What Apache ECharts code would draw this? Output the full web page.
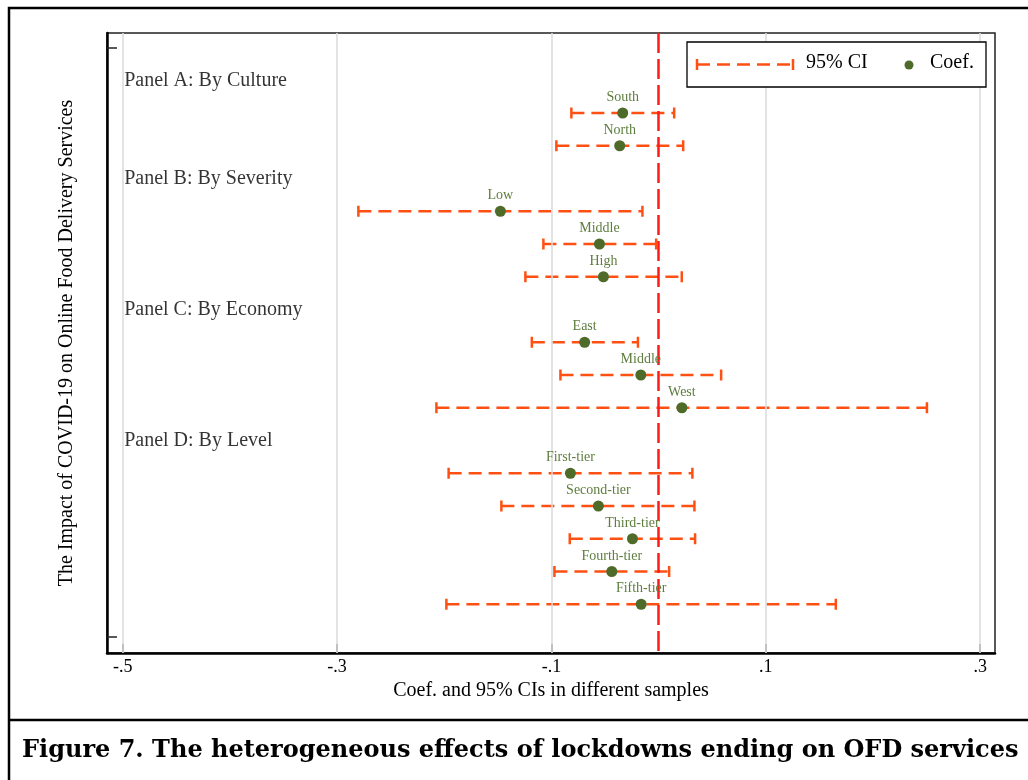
<!DOCTYPE html>
<html>
<head>
<meta charset="utf-8">
<script src="https://cdn.jsdelivr.net/npm/echarts@6/dist/echarts.min.js"></script>
<style>
html,body{margin:0;padding:0;background:#fff;}
#chart{width:1028px;height:780px;}
</style>
</head>
<body>
<div id="chart"></div>
<script>
// ---- Data ----
const rowLabels = ['South','North','Low','Middle','High','East','Middle','West','First-tier','Second-tier','Third-tier','Fourth-tier','Fifth-tier'];
const rowPos    = [2, 3, 5, 6, 7, 9, 10, 11, 13, 14, 15, 16, 17];
const coef      = [-0.0335, -0.0363, -0.1476, -0.0552, -0.0515, -0.0690, -0.0166, 0.0217, -0.0823, -0.0562, -0.0244, -0.0437, -0.0163];
const ciLow     = [-0.0814, -0.0954, -0.2801, -0.1075, -0.1243, -0.1183, -0.0916, -0.2073, -0.1959, -0.1467, -0.0829, -0.0972, -0.1980];
const ciHigh    = [0.0145, 0.0229, -0.0151, -0.0023, 0.0216, -0.0193, 0.0583, 0.2503, 0.0315, 0.0334, 0.0340, 0.0098, 0.1653];
const panelLabels = ['Panel A: By Culture','Panel B: By Severity','Panel C: By Economy','Panel D: By Level'];
const panelPos    = [1, 4, 8, 12];
const xTicks      = [-0.5, -0.3, -0.1, 0.1, 0.3];
const xTickLabels = ['-.5', '-.3', '-.1', '.1', '.3'];
const yTicks      = [0, 18];
const refValue    = 0;

const SERIF = 'Liberation Serif';
const CI_COLOR = '#ff5014';
const DOT_COLOR = '#4e6b2a';
const LABEL_COLOR = '#5e7d3e';

const ciData = rowPos.map((p, i) => [ciLow[i], ciHigh[i], p]);
const dotData = rowPos.map((p, i) => ({ value: [coef[i], p], name: rowLabels[i] }));
const panelData = panelPos.map((p, i) => ({ value: [xTicks[0], p], name: panelLabels[i] }));

const chart = echarts.init(document.getElementById('chart'), null, { renderer: 'canvas' });

const option = {
  animation: false,
  backgroundColor: '#fff',
  grid: { left: 107, top: 33, right: 33, bottom: 127, show: true, borderColor: '#222', borderWidth: 1.5, backgroundColor: 'transparent' },
  xAxis: {
    type: 'value',
    min: -0.5146, max: 0.3138,
    name: 'Coef. and 95% CIs in different samples',
    nameLocation: 'middle', nameGap: 27,
    nameTextStyle: { fontFamily: SERIF, fontSize: 20, color: '#000' },
    axisLine: { show: true, onZero: false, lineStyle: { color: '#000', width: 2.5 } },
    axisTick: { show: true, inside: true, length: 9, customValues: xTicks, lineStyle: { color: '#222', width: 1.5 } },
    axisLabel: { customValues: xTicks, fontFamily: SERIF, fontSize: 18, color: '#000', margin: 5,
      formatter: v => { const i = xTicks.findIndex(t => Math.abs(t - v) < 1e-9); return i >= 0 ? xTickLabels[i] : ''; } },
    splitLine: { show: false }
  },
  yAxis: {
    type: 'value',
    inverse: true,
    min: -0.443, max: 18.489,
    name: 'The Impact of COVID-19 on Online Food Delivery Services',
    nameLocation: 'middle', nameGap: 30, nameRotate: 90,
    nameTextStyle: { fontFamily: SERIF, fontSize: 20, color: '#000' },
    axisLine: { show: true, onZero: false, lineStyle: { color: '#000', width: 2.5 } },
    axisTick: { show: true, inside: true, length: 10, customValues: yTicks, lineStyle: { color: '#222', width: 1.5 } },
    axisLabel: { show: false, customValues: yTicks },
    splitLine: { show: false }
  },
  series: [
    {
      // vertical grid lines at the x ticks
      type: 'line', data: [], z: 1, silent: true,
      markLine: {
        silent: true, symbol: 'none', animation: false,
        label: { show: false },
        lineStyle: { color: '#dcdcdc', width: 1.6, type: 'solid' },
        data: xTicks.map(t => ({ xAxis: t }))
      }
    },
    {
      type: 'custom', z: 3, silent: true,
      data: ciData,
      encode: { x: [0, 1], y: 2 },
      renderItem: function (params, api) {
        const lo = api.coord([api.value(0), api.value(2)]);
        const hi = api.coord([api.value(1), api.value(2)]);
        const h = 5.5;
        const st = { stroke: CI_COLOR, lineWidth: 2.5, fill: null };
        return {
          type: 'group',
          children: [
            { type: 'line', shape: { x1: lo[0], y1: lo[1], x2: hi[0], y2: hi[1] }, style: Object.assign({}, st, { lineDash: [13, 7] }) },
            { type: 'line', shape: { x1: lo[0], y1: lo[1] - h, x2: lo[0], y2: lo[1] + h }, style: st },
            { type: 'line', shape: { x1: hi[0], y1: hi[1] - h, x2: hi[0], y2: hi[1] + h }, style: st }
          ]
        };
      }
    },
    {
      // zero reference line
      type: 'line', data: [], z: 4, silent: true,
      markLine: {
        silent: true, symbol: 'none', animation: false,
        label: { show: false },
        lineStyle: { color: '#ff1a1a', width: 2.5, type: [20, 6] },
        data: [{ xAxis: refValue }]
      }
    },
    {
      type: 'scatter', z: 5, silent: true,
      symbol: 'circle', symbolSize: 11,
      itemStyle: { color: DOT_COLOR, opacity: 1 },
      data: dotData,
      label: { show: true, position: 'top', distance: 3, formatter: p => p.name,
        fontFamily: SERIF, fontSize: 14, color: LABEL_COLOR }
    },
    {
      type: 'scatter', z: 5, silent: true,
      symbolSize: 1,
      itemStyle: { color: 'rgba(0,0,0,0)' },
      data: panelData,
      label: { show: true, position: 'right', distance: 1, formatter: p => p.name,
        fontFamily: SERIF, fontSize: 20, color: '#000' }
    }
  ],
  graphic: [
    // outer frame
    { type: 'rect', shape: { x: 9, y: 8, width: 1030, height: 800 }, style: { fill: null, stroke: '#000', lineWidth: 2.5 }, z: 100, silent: true },
    { type: 'line', shape: { x1: 9, y1: 720, x2: 1030, y2: 720 }, style: { stroke: '#000', lineWidth: 2.5 }, z: 100, silent: true },
    { type: 'text', left: 22, top: 739, style: { text: 'Figure 7. The heterogeneous effects of lockdowns ending on OFD services', font: 'bold 24px "DejaVu Serif"', fill: '#000' }, z: 100 },
    // legend box
    { type: 'rect', shape: { x: 687, y: 42, width: 299, height: 45 }, style: { fill: '#fff', stroke: '#000', lineWidth: 1.3 }, z: 50, silent: true },
    { type: 'line', shape: { x1: 697, y1: 64.5, x2: 793, y2: 64.5 }, style: { stroke: CI_COLOR, lineWidth: 2.5, lineDash: [13, 7] }, z: 51, silent: true },
    { type: 'line', shape: { x1: 697, y1: 59, x2: 697, y2: 70 }, style: { stroke: CI_COLOR, lineWidth: 2.5 }, z: 51, silent: true },
    { type: 'line', shape: { x1: 793, y1: 59, x2: 793, y2: 70 }, style: { stroke: CI_COLOR, lineWidth: 2.5 }, z: 51, silent: true },
    { type: 'text', left: 806, top: 53, style: { text: '95% CI', font: '20px "Liberation Serif"', fill: '#000' }, z: 51 },
    { type: 'circle', shape: { cx: 909, cy: 65, r: 4.5 }, style: { fill: DOT_COLOR }, z: 51, silent: true },
    { type: 'text', left: 930, top: 53, style: { text: 'Coef.', font: '20px "Liberation Serif"', fill: '#000' }, z: 51 }
  ]
};
chart.setOption(option);
</script>
</body>
</html>
